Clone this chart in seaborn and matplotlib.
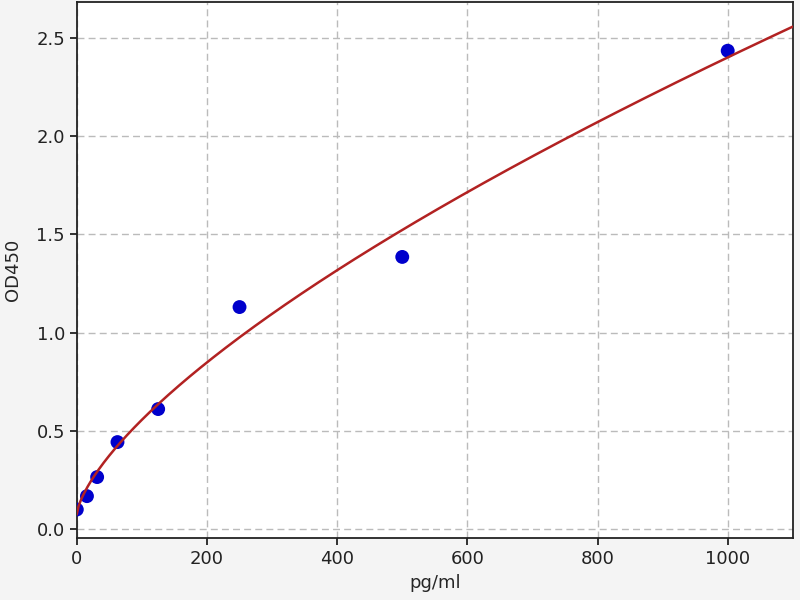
import numpy as np
import pandas as pd
import matplotlib
matplotlib.use("Agg")
import matplotlib.pyplot as plt
import seaborn as sns

conc = [0, 15.6, 31.25, 62.5, 125, 250, 500, 1000]
od = [0.10, 0.168, 0.265, 0.443, 0.611, 1.13, 1.385, 2.434]
x_ticks = [0, 200, 400, 600, 800, 1000]
y_ticks = [0.0, 0.5, 1.0, 1.5, 2.0, 2.5]

df = pd.DataFrame({"pg/ml": conc, "OD450": od})

# least-squares fit of y = a + b * x**r to the standard points
xs = np.array(conc, dtype=float)
ys = np.array(od, dtype=float)
best = None
for r in np.linspace(0.3, 1.2, 901):
    A = np.column_stack([np.ones_like(xs), xs ** r])
    coef, res, *_ = np.linalg.lstsq(A, ys, rcond=None)
    err = np.sum((A @ coef - ys) ** 2)
    if best is None or err < best[0]:
        best = (err, r, coef)
_, r_fit, (a_fit, b_fit) = best
xf = np.linspace(0, 1100, 400)
fit_df = pd.DataFrame({"pg/ml": xf, "OD450": a_fit + b_fit * xf ** r_fit})

sns.set_theme(style="ticks")
plt.rcParams["font.family"] = ["DejaVu Sans"]
fig = plt.figure(figsize=(8, 6), dpi=100, facecolor="#f4f4f4")
ax = fig.add_axes([0.096, 0.103, 0.895, 0.894])
ax.set_facecolor("white")

sns.scatterplot(data=df, x="pg/ml", y="OD450", ax=ax, color="#0000cc",
                s=100, edgecolor="none", zorder=3)
sns.lineplot(data=fit_df, x="pg/ml", y="OD450", ax=ax, color="#b22222",
             linewidth=1.8, zorder=4)

ax.set_xlim(0, 1100)
ax.set_ylim(-0.046, 2.683)
ax.set_xticks(x_ticks)
ax.set_yticks(y_ticks)
ax.set_yticklabels([f"{v:.1f}" for v in y_ticks])
ax.grid(True, linestyle=(0, (5, 3)), color="#bbbbbb", linewidth=1)
ax.set_axisbelow(True)
for s in ax.spines.values():
    s.set_color("#222222")
    s.set_linewidth(1.3)
ax.tick_params(labelsize=13, colors="#222222", length=5, width=1.3)
ax.set_xlabel("pg/ml", fontsize=13, labelpad=4)
ax.set_ylabel("OD450", fontsize=13, labelpad=10)
fig.savefig("out.png", dpi=100, facecolor=fig.get_facecolor())
